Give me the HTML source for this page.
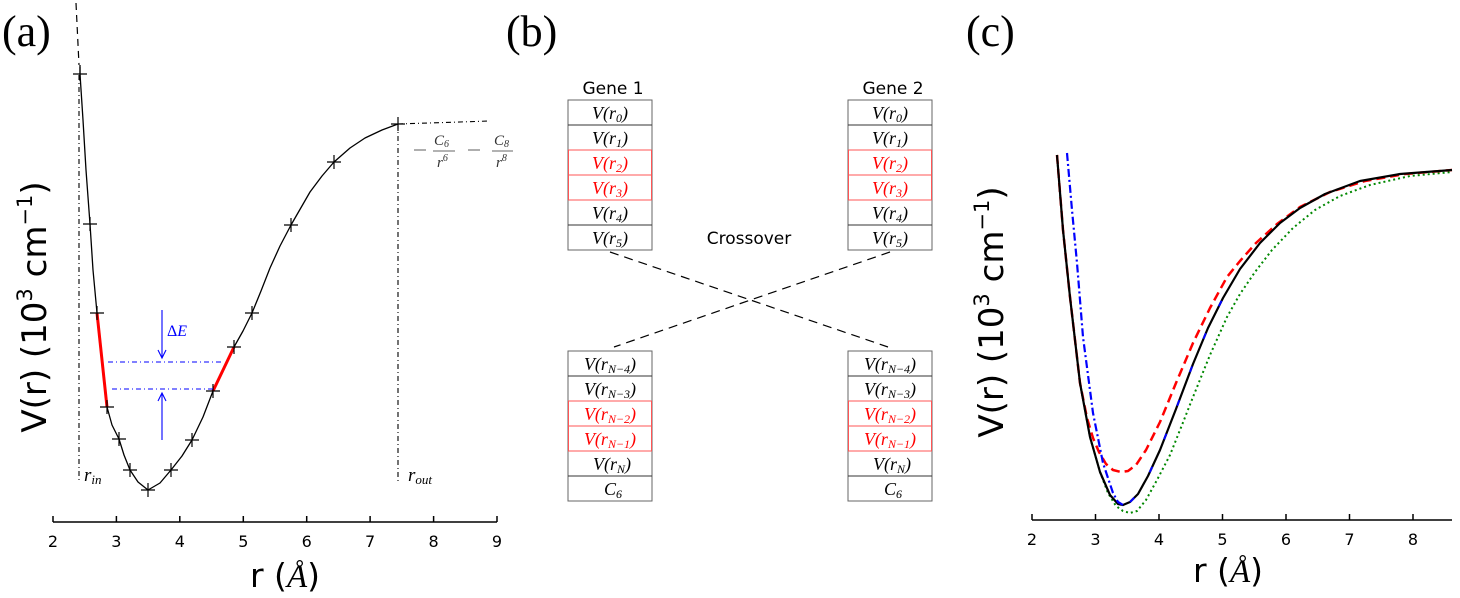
<!DOCTYPE html>
<html><head><meta charset="utf-8"><style>
html,body{margin:0;padding:0;background:#fff;}
svg{display:block}
.d{font-family:"DejaVu Sans","Liberation Sans",sans-serif;}
.s{font-family:"Liberation Serif",serif;}
.si{font-family:"Liberation Serif",serif;font-style:italic;}
</style></head><body>
<svg width="1460" height="598" viewBox="0 0 1460 598" xmlns="http://www.w3.org/2000/svg">
<text class="s" x="2" y="46" font-size="44">(a)</text>
<text class="s" x="506" y="46" font-size="44">(b)</text>
<text class="s" x="966" y="46" font-size="44">(c)</text>

<!-- ===== Panel (a) ===== -->
<line x1="53" y1="522" x2="497" y2="522" stroke="#000" stroke-width="1.5"/>
<g stroke="#000" stroke-width="1.5">
<line x1="53" y1="516" x2="53" y2="522"/><line x1="116.4" y1="516" x2="116.4" y2="522"/><line x1="179.8" y1="516" x2="179.8" y2="522"/><line x1="243.3" y1="516" x2="243.3" y2="522"/><line x1="306.7" y1="516" x2="306.7" y2="522"/><line x1="370.1" y1="516" x2="370.1" y2="522"/><line x1="433.6" y1="516" x2="433.6" y2="522"/><line x1="497" y1="516" x2="497" y2="522"/>
</g>
<g font-size="16" text-anchor="middle">
<text class="d" x="53" y="547">2</text><text class="d" x="116.4" y="547">3</text><text class="d" x="179.8" y="547">4</text><text class="d" x="243.3" y="547">5</text><text class="d" x="306.7" y="547">6</text><text class="d" x="370.1" y="547">7</text><text class="d" x="433.6" y="547">8</text><text class="d" x="497" y="547">9</text>
</g>
<text class="d" x="285" y="587" font-size="33" text-anchor="middle">r (<tspan class="si">Å</tspan>)</text>
<text class="d" transform="translate(46,307) rotate(-90)" font-size="34" text-anchor="middle">V(r) (10<tspan font-size="21" dy="-14">3</tspan><tspan dy="14"> cm</tspan><tspan font-size="21" dy="-14">−1</tspan><tspan dy="14">)</tspan></text>

<line x1="76" y1="3" x2="79" y2="65" stroke="#000" stroke-dasharray="7,5" stroke-width="1.2"/>
<line x1="79" y1="75" x2="79" y2="483" stroke="#000" stroke-dasharray="5,3,1,3" stroke-width="1.1"/>
<line x1="398" y1="124" x2="398" y2="483" stroke="#000" stroke-dasharray="5,3,1,3" stroke-width="1.1"/>
<line x1="398" y1="124" x2="490" y2="121" stroke="#000" stroke-dasharray="5,3,1,3" stroke-width="1.1"/>
<polyline fill="none" stroke="#000" stroke-width="1.3" stroke-linejoin="round" points="80,65 80,74 83,120 86,170 90,224 93,270 97,313 102,360 107,407 112,425 119,439 124,455 130,470 138,482 148,490 160,483 171,470 182,456 192,440 203,417 213,391 224,368 234,347 243,331 252,313 261,291 270,268 280,246 291,225 310,192 322,176 334,162 350,148 365,138 382,130 398,124"/>
<line x1="97" y1="313" x2="107" y2="407" stroke="#f00" stroke-width="3"/>
<polyline fill="none" stroke="#f00" stroke-width="3" points="213,391 224,368 234,347"/>
<g stroke="#000" stroke-width="1.2">
<path d="M73,74h14M80,67v14"/><path d="M83,224h14M90,217v14"/><path d="M90,313h14M97,306v14"/><path d="M100,407h14M107,400v14"/><path d="M112,439h14M119,432v14"/><path d="M123,470h14M130,463v14"/><path d="M141,490h14M148,483v14"/><path d="M164,470h14M171,463v14"/><path d="M185,440h14M192,433v14"/><path d="M206,391h14M213,384v14"/><path d="M227,347h14M234,340v14"/><path d="M245,313h14M252,306v14"/><path d="M284,225h14M291,218v14"/><path d="M327,162h14M334,155v14"/><path d="M391,124h14M398,117v14"/>
</g>
<g stroke="#00f" stroke-width="1.1">
<line x1="108" y1="362" x2="222" y2="362" stroke-dasharray="5,3,1,3"/>
<line x1="112" y1="389" x2="213" y2="389" stroke-dasharray="5,3,1,3"/>
<line x1="162" y1="310" x2="162" y2="357"/><path d="M158,350 L162,358 L166,350" fill="none"/>
<line x1="162" y1="440" x2="162" y2="394"/><path d="M158,401 L162,393 L166,401" fill="none"/>
</g>
<text class="s" x="167" y="336" fill="#00f" font-size="16">Δ<tspan font-style="italic">E</tspan></text>
<text class="si" x="84" y="481" font-size="19">r<tspan font-size="13" dy="3">in</tspan></text>
<text class="si" x="408" y="481" font-size="19">r<tspan font-size="13" dy="3">out</tspan></text>
<g fill="#333">
<line x1="414" y1="150" x2="426" y2="150" stroke="#333" stroke-width="0.8"/>
<text class="si" x="434" y="145" font-size="15">C<tspan font-size="10" dy="2">6</tspan></text>
<line x1="433" y1="151" x2="455" y2="151" stroke="#333" stroke-width="0.8"/>
<text class="si" x="437" y="167" font-size="15">r<tspan font-size="10" dy="-6">6</tspan></text>
<line x1="468" y1="150" x2="480" y2="150" stroke="#333" stroke-width="0.8"/>
<text class="si" x="494" y="145" font-size="15">C<tspan font-size="10" dy="2">8</tspan></text>
<line x1="492" y1="151" x2="513" y2="151" stroke="#333" stroke-width="0.8"/>
<text class="si" x="496" y="167" font-size="15">r<tspan font-size="10" dy="-6">8</tspan></text>
</g>

<!-- ===== Panel (b) ===== -->
<text class="d" x="613" y="94" font-size="17" text-anchor="middle">Gene 1</text>
<text class="d" x="893" y="94" font-size="17" text-anchor="middle">Gene 2</text>
<text class="d" x="749" y="244" font-size="17" text-anchor="middle">Crossover</text>
<g stroke="#666" stroke-width="1" fill="none">
<rect x="568" y="100" width="84" height="150"/>
<rect x="848" y="100" width="84" height="150"/>
<rect x="568" y="351" width="84" height="150"/>
<rect x="848" y="351" width="84" height="150"/>
</g>
<g stroke="#333" stroke-width="1">
<line x1="568" y1="125" x2="652" y2="125"/><line x1="568" y1="200" x2="652" y2="200"/><line x1="568" y1="225" x2="652" y2="225"/>
<line x1="848" y1="125" x2="932" y2="125"/><line x1="848" y1="200" x2="932" y2="200"/><line x1="848" y1="225" x2="932" y2="225"/>
<line x1="568" y1="376" x2="652" y2="376"/><line x1="568" y1="451" x2="652" y2="451"/><line x1="568" y1="476" x2="652" y2="476"/>
<line x1="848" y1="376" x2="932" y2="376"/><line x1="848" y1="451" x2="932" y2="451"/><line x1="848" y1="476" x2="932" y2="476"/>
</g>
<g stroke="#f55" stroke-width="1" fill="none">
<rect x="568.5" y="150" width="83" height="50"/><line x1="568" y1="175" x2="652" y2="175"/>
<rect x="848.5" y="150" width="83" height="50"/><line x1="848" y1="175" x2="932" y2="175"/>
<rect x="568.5" y="401" width="83" height="50"/><line x1="568" y1="426" x2="652" y2="426"/>
<rect x="848.5" y="401" width="83" height="50"/><line x1="848" y1="426" x2="932" y2="426"/>
</g>
<g font-size="18" text-anchor="middle">
<text class="si" x="610" y="119">V(r<tspan font-size="12" dy="3">0</tspan><tspan dy="-3">)</tspan></text>
<text class="si" x="610" y="144">V(r<tspan font-size="12" dy="3">1</tspan><tspan dy="-3">)</tspan></text>
<text class="si" x="610" y="169" fill="#f00">V(r<tspan font-size="12" dy="3">2</tspan><tspan dy="-3">)</tspan></text>
<text class="si" x="610" y="194" fill="#f00">V(r<tspan font-size="12" dy="3">3</tspan><tspan dy="-3">)</tspan></text>
<text class="si" x="610" y="219">V(r<tspan font-size="12" dy="3">4</tspan><tspan dy="-3">)</tspan></text>
<text class="si" x="610" y="244">V(r<tspan font-size="12" dy="3">5</tspan><tspan dy="-3">)</tspan></text>
<text class="si" x="890" y="119">V(r<tspan font-size="12" dy="3">0</tspan><tspan dy="-3">)</tspan></text>
<text class="si" x="890" y="144">V(r<tspan font-size="12" dy="3">1</tspan><tspan dy="-3">)</tspan></text>
<text class="si" x="890" y="169" fill="#f00">V(r<tspan font-size="12" dy="3">2</tspan><tspan dy="-3">)</tspan></text>
<text class="si" x="890" y="194" fill="#f00">V(r<tspan font-size="12" dy="3">3</tspan><tspan dy="-3">)</tspan></text>
<text class="si" x="890" y="219">V(r<tspan font-size="12" dy="3">4</tspan><tspan dy="-3">)</tspan></text>
<text class="si" x="890" y="244">V(r<tspan font-size="12" dy="3">5</tspan><tspan dy="-3">)</tspan></text>
<text class="si" x="610" y="370">V(r<tspan font-size="12" dy="3">N−4</tspan><tspan dy="-3">)</tspan></text>
<text class="si" x="610" y="395">V(r<tspan font-size="12" dy="3">N−3</tspan><tspan dy="-3">)</tspan></text>
<text class="si" x="610" y="420" fill="#f00">V(r<tspan font-size="12" dy="3">N−2</tspan><tspan dy="-3">)</tspan></text>
<text class="si" x="610" y="445" fill="#f00">V(r<tspan font-size="12" dy="3">N−1</tspan><tspan dy="-3">)</tspan></text>
<text class="si" x="612" y="470">V(r<tspan font-size="12" dy="3">N</tspan><tspan dy="-3">)</tspan></text>
<text class="si" x="613" y="495">C<tspan font-size="12" dy="3">6</tspan></text>
<text class="si" x="890" y="370">V(r<tspan font-size="12" dy="3">N−4</tspan><tspan dy="-3">)</tspan></text>
<text class="si" x="890" y="395">V(r<tspan font-size="12" dy="3">N−3</tspan><tspan dy="-3">)</tspan></text>
<text class="si" x="890" y="420" fill="#f00">V(r<tspan font-size="12" dy="3">N−2</tspan><tspan dy="-3">)</tspan></text>
<text class="si" x="890" y="445" fill="#f00">V(r<tspan font-size="12" dy="3">N−1</tspan><tspan dy="-3">)</tspan></text>
<text class="si" x="892" y="470">V(r<tspan font-size="12" dy="3">N</tspan><tspan dy="-3">)</tspan></text>
<text class="si" x="893" y="495">C<tspan font-size="12" dy="3">6</tspan></text>
</g>
<g stroke="#000" stroke-width="1.2" stroke-dasharray="9,6">
<line x1="610" y1="252" x2="888" y2="347"/>
<line x1="890" y1="252" x2="614" y2="347"/>
</g>

<!-- ===== Panel (c) ===== -->
<line x1="1032" y1="520" x2="1452" y2="520" stroke="#000" stroke-width="1.5"/>
<g stroke="#000" stroke-width="1.5">
<line x1="1032" y1="514" x2="1032" y2="520"/><line x1="1095.5" y1="514" x2="1095.5" y2="520"/><line x1="1159" y1="514" x2="1159" y2="520"/><line x1="1222.5" y1="514" x2="1222.5" y2="520"/><line x1="1286" y1="514" x2="1286" y2="520"/><line x1="1349.5" y1="514" x2="1349.5" y2="520"/><line x1="1413" y1="514" x2="1413" y2="520"/>
</g>
<g font-size="16" text-anchor="middle">
<text class="d" x="1032" y="545">2</text><text class="d" x="1095.5" y="545">3</text><text class="d" x="1159" y="545">4</text><text class="d" x="1222.5" y="545">5</text><text class="d" x="1286" y="545">6</text><text class="d" x="1349.5" y="545">7</text><text class="d" x="1413" y="545">8</text>
</g>
<text class="d" x="1228" y="582" font-size="33" text-anchor="middle">r (<tspan class="si">Å</tspan>)</text>
<text class="d" transform="translate(1003,312) rotate(-90)" font-size="34" text-anchor="middle">V(r) (10<tspan font-size="21" dy="-14">3</tspan><tspan dy="14"> cm</tspan><tspan font-size="21" dy="-14">−1</tspan><tspan dy="14">)</tspan></text>

<g fill="none" stroke-linejoin="round" stroke-linecap="butt">
<polyline stroke="#080" stroke-width="2" stroke-dasharray="2,3" points="1057,155 1063,230 1070,297 1080,383 1090,437 1100,472 1108,493 1116,506 1123,511 1130,513 1137,511 1146,500 1157,480 1170,455 1182,425 1193,397 1210,355 1227,317 1240,294 1255,272 1272,250 1293,228 1315,210 1340,196 1370,185 1410,176 1452,172"/>
<polyline stroke="#f00" stroke-width="2.5" stroke-dasharray="9,5" points="1057,155 1063,230 1070,297 1080,383 1087,418 1093,438 1099,452 1106,464 1113,470 1121,472 1128,471 1136,465 1146,450 1160,422 1176,383 1193,343 1210,308 1227,277 1240,261 1256,243 1277,224 1300,207 1330,192 1365,181 1405,174 1452,170"/>
<polyline stroke="#000" stroke-width="2.2" points="1057,155 1063,230 1070,297 1080,383 1090,437 1100,472 1110,495 1118,504 1123,505 1130,502 1138,494 1148,476 1160,450 1176,409 1193,364 1208,328 1223,298 1240,269 1260,243 1280,223 1300,208 1325,194 1360,181 1400,174 1452,170"/>
<polyline stroke="#00f" stroke-width="2.2" stroke-dasharray="8,3,2,3" points="1067,153 1072,210 1077,263 1083,337 1093,413 1103,463 1113,493 1118,502 1123,505"/>
<polyline stroke="#00f" stroke-width="2" stroke-dasharray="6,30" points="1130,502 1138,494 1148,476 1160,450 1176,409 1193,364 1208,328 1223,298"/>
</g>
</svg>
</body></html>
